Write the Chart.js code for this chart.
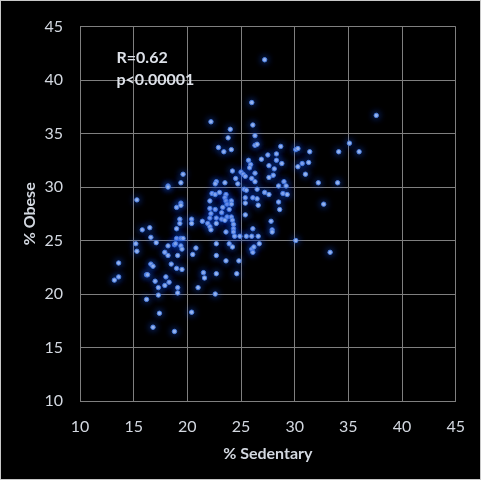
<!DOCTYPE html>
<html>
<head>
<meta charset="utf-8">
<script src="https://cdn.jsdelivr.net/npm/chart.js@4"></script>
<style>
  html, body { margin: 0; padding: 0; background: #000; }
  #wrap { width: 481px; height: 480px; position: relative; }
</style>
</head>
<body>
<div id="wrap"><canvas id="chart"></canvas></div>
<script>
// % Sedentary (x) y % Obese (y)
const sedentary = [
  27.2, 26.0, 22.2, 26.1, 24.0, 26.3, 23.8, 22.9, 23.4, 24.1, 26.3, 26.5, 28.7, 30.1, 30.3, 31.4, 27.5, 28.3, 37.6, 35.1, 34.1, 36.0,
  25.7, 26.9, 28.3, 28.8, 25.9, 25.8, 27.6, 28.1, 30.7, 31.3, 30.3, 31.0, 24.2, 25.0, 25.2, 25.4, 26.3, 28.0, 27.6, 24.5, 26.0, 26.3,
  22.7, 22.6, 23.5, 24.7, 29.0, 28.5, 29.2, 32.2, 34.0, 19.6, 19.4, 18.2, 18.2,
  25.3, 25.5, 26.5, 27.2, 27.6, 28.9, 29.3, 22.3, 22.6, 23.0, 23.6, 23.5, 23.6, 23.7, 24.1, 24.1, 25.4, 26.1, 26.5, 22.1, 25.4, 26.6,
  28.5, 32.7, 15.3, 19.4, 19.0, 19.4,
  22.1, 22.6, 23.3, 23.9, 28.6, 22.2, 23.2, 25.4, 22.1, 22.7, 23.2, 23.7, 24.1, 20.4, 20.4, 21.4, 21.9, 22.1, 22.2, 22.7, 23.5, 24.2,
  24.3, 27.8, 24.3, 26.1, 27.9, 27.9, 19.3, 19.3, 19.0, 15.8, 16.5,
  23.6, 24.3, 24.4, 24.9, 25.5, 26.0, 26.6, 30.1, 20.8, 20.5, 22.7, 23.9, 24.2, 26.0, 26.1, 26.2, 26.7, 16.6, 17.1, 15.2, 15.3, 19.0,
  19.4, 19.6, 18.8, 18.9, 18.2, 19.4, 19.5, 33.3,
  22.7, 23.6, 24.8, 21.5, 21.6, 22.7, 24.6, 21.0, 22.6, 20.4, 17.9, 18.2, 19.1, 13.6, 16.6, 16.8, 18.5, 19.0, 19.5, 16.2, 16.3, 13.6,
  13.2, 18.0, 17.0, 18.3, 17.9, 17.3, 19.1, 19.1, 17.3, 16.2, 17.4, 16.8, 18.8
];
const obese = [
  41.9, 37.9, 36.1, 35.8, 35.4, 34.8, 34.6, 33.7, 33.3, 33.5, 33.9, 34.0, 33.8, 33.5, 33.6, 33.3, 33.0, 33.1, 36.7, 34.1, 33.3, 33.3,
  32.5, 32.6, 32.5, 32.2, 32.1, 31.8, 32.0, 31.7, 32.2, 32.3, 31.9, 31.2, 31.5, 31.4, 31.2, 31.0, 31.3, 31.1, 30.9, 30.8, 30.8, 30.5,
  30.5, 30.3, 30.4, 30.3, 30.5, 30.1, 30.1, 30.4, 30.4, 31.2, 30.4, 30.1, 30.0,
  29.8, 29.7, 29.8, 29.5, 29.3, 29.4, 29.3, 29.4, 29.3, 29.5, 29.3, 29.0, 28.7, 28.4, 28.7, 28.4, 29.0, 29.0, 28.9, 28.7, 28.5, 28.3,
  28.6, 28.4, 28.8, 28.5, 28.1, 28.3,
  28.0, 27.9, 28.1, 27.9, 27.9, 27.5, 27.6, 27.4, 27.1, 27.1, 27.0, 27.2, 27.2, 27.0, 26.6, 26.8, 26.6, 26.3, 26.0, 26.6, 26.9, 26.9,
  26.5, 26.8, 26.1, 26.1, 26.0, 25.8, 27.0, 26.6, 26.1, 26.0, 26.2,
  25.8, 25.8, 25.4, 25.4, 25.4, 25.4, 25.4, 25.0, 24.3, 23.7, 24.7, 24.7, 24.4, 24.2, 23.9, 24.4, 24.7, 25.3, 24.8, 24.7, 24.0, 25.2,
  25.2, 25.2, 24.6, 24.7, 24.5, 24.5, 24.2, 23.9,
  23.6, 23.1, 23.1, 22.0, 21.5, 21.9, 21.9, 20.6, 20.0, 18.3, 23.9, 23.6, 23.6, 22.9, 22.8, 22.6, 22.8, 22.4, 22.3, 21.8, 21.8, 21.6,
  21.3, 21.6, 21.2, 21.1, 20.8, 20.6, 20.6, 20.1, 19.9, 19.5, 18.2, 16.9, 16.5
];
const axisMin = 10;
const axisMax = 45;
const axisStep = 5;
const statLines = ['R=0.62', 'p<0.00001'];

const FONT = 'Lato, "Open Sans", sans-serif';
const TEXT = '#d3d8e0';
const GRID = '#7f7f7f';

const glowPlugin = {
  id: 'glow',
  beforeDatasetDraw(chart) {
    const c = chart.ctx;
    c.save();
    c.shadowColor = 'rgba(30,85,235,0.9)';
    c.shadowBlur = 7;
  },
  afterDatasetDraw(chart) {
    chart.ctx.restore();
  },
};

const framePlugin = {
  id: 'frame',
  beforeDraw(chart) {
    const c = chart.ctx;
    c.save();
    c.fillStyle = '#000';
    c.fillRect(0, 0, chart.width, chart.height);
    c.restore();
  },
  afterDraw(chart) {
    const c = chart.ctx;
    const { x, y } = chart.scales;
    c.save();
    c.strokeStyle = '#c8c8c8';
    c.lineWidth = 1;
    c.strokeRect(0.5, 0.5, chart.width - 1, chart.height - 1);
    // texto de correlacion
    c.fillStyle = '#dde1e8';
    c.font = 'bold 16px ' + FONT;
    c.textBaseline = 'middle';
    c.textAlign = 'left';
    const left = x.getPixelForValue(13.4);
    c.fillText(statLines[0], left, y.getPixelForValue(42.1));
    c.fillText(statLines[1], left, y.getPixelForValue(40.0));
    c.restore();
  },
};

new Chart(document.getElementById('chart'), {
  type: 'scatter',
  data: {
    datasets: [{
      data: sedentary.map((v, i) => ({ x: v, y: obese[i] })),
      pointRadius: 2.2,
      pointHoverRadius: 2.2,
      backgroundColor: '#a4bdee',
      borderColor: '#4a7fe0',
      borderWidth: 1,
    }],
  },
  options: {
    animation: false,
    responsive: true,
    maintainAspectRatio: false,
    devicePixelRatio: 1,
    layout: { padding: { left: 0, right: 24, top: 18, bottom: 0 } },
    plugins: { legend: { display: false }, tooltip: { enabled: false } },
    scales: {
      x: {
        min: axisMin, max: axisMax,
        ticks: { stepSize: axisStep, color: TEXT, font: { family: FONT, size: 16 }, padding: 16, maxRotation: 0 },
        grid: { color: GRID, drawTicks: false },
        border: { color: GRID },
        title: { display: true, text: '% Sedentary', color: TEXT, font: { family: FONT, size: 16, weight: 'bold' }, padding: { top: 0, bottom: 17 } },
        afterFit(scale) { scale.height = 79; },
      },
      y: {
        min: axisMin, max: axisMax,
        ticks: { stepSize: axisStep, color: TEXT, font: { family: FONT, size: 16 }, padding: 17 },
        grid: { color: GRID, drawTicks: false },
        border: { color: GRID },
        title: { display: true, text: '% Obese', color: TEXT, font: { family: FONT, size: 16, weight: 'bold' }, padding: { top: 20, bottom: 0 } },
        afterFit(scale) { scale.width = 80; },
      },
    },
  },
  plugins: [framePlugin, glowPlugin],
});
</script>
</body>
</html>
